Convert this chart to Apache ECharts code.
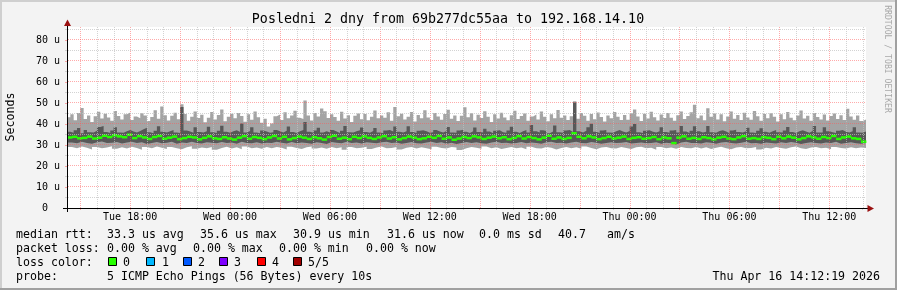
<!DOCTYPE html>
<html><head><meta charset="utf-8">
<script src="https://cdn.jsdelivr.net/npm/echarts@6/dist/echarts.min.js"></script>
<style>html,body{margin:0;padding:0;background:#f3f3f3}#c{width:897px;height:290px}</style>
</head><body><div id="c"></div>
<script>
// ---- time axis (hours since Tue 00:00) ----
const startHour = 14 + 12/60 + 19/3600;   // Tue 14:12:19
const spanHours = 48;
const dayNames = ['Tue','Wed','Thu'];
const majorHours = [15,18,21,24,27,30,33,36,39,42,45,48,51,54,57,60];
const minorHours = [16,17,19,20,22,23,25,26,28,29,31,32,34,35,37,38,40,41,43,44,46,47,49,50,52,53,55,56,58,59,61,62];
const labelHours = [18,24,30,36,42,48,54,60];
// ---- value axis (microseconds) ----
const yLabelValues = [0,10,20,30,40,50,60,70,80];
const yMajor = [10,20,30,40,50,60,70,80];
const yMinor = [5,15,25,35,45,55,65,75,85];
const yMax = 86.2;

// ---- ping data (us): max and 4th ping in 240 steps of 12 min, others in 160 steps of 18 min ----
const pingMax = [
43.2,44.6,41.8,45.3,47.6,42.4,44.1,40.9,43.7,45.8,
42.6,44.9,43.1,41.5,46.2,43.8,42.2,44.7,45.5,41.9,
43.6,42.8,45.1,44.0,41.4,43.3,46.6,42.5,48.3,44.2,
41.7,43.9,45.4,42.3,49.4,44.8,41.6,43.5,46.0,42.9,
44.4,40.8,43.0,45.7,42.1,44.3,46.9,41.3,43.4,44.9,
42.7,45.2,43.8,41.1,44.6,42.0,45.9,43.2,40.6,42.5,
38.8,40.2,43.7,44.5,41.9,45.6,42.8,44.1,46.3,43.0,
42.4,51.2,44.0,41.7,45.3,43.6,47.4,46.1,42.9,44.7,
43.3,41.5,45.8,42.6,44.2,40.9,43.9,45.0,42.3,44.8,
41.8,43.5,46.4,42.7,44.1,43.0,45.6,41.6,48.1,43.7,
44.9,42.1,43.4,45.7,41.2,44.3,42.8,46.5,43.1,41.9,
45.2,43.6,42.0,44.8,46.8,42.5,44.0,41.4,43.9,48.0,
43.2,45.1,41.7,44.4,42.9,46.1,43.5,41.0,44.7,42.6,
45.4,43.1,41.8,44.2,46.3,42.4,43.8,45.0,41.5,43.6,
44.5,42.2,45.9,43.4,41.3,44.6,42.7,46.7,43.0,44.1,
41.9,43.7,50.8,42.5,45.2,43.9,41.6,44.8,42.3,45.5,
43.3,41.2,44.0,42.8,45.7,43.5,41.9,44.3,42.0,45.1,
46.9,43.6,41.4,44.9,42.6,45.8,43.2,41.7,44.5,42.9,
45.3,43.0,41.5,44.2,46.0,42.4,43.8,45.6,49.2,42.7,
44.1,41.8,47.5,43.4,45.0,42.2,44.7,41.3,43.6,45.9,
42.5,44.3,41.9,45.4,43.1,42.0,46.2,43.7,41.6,44.8,
42.8,45.1,43.5,41.2,44.6,42.3,45.7,43.0,41.8,44.0,
46.4,42.6,43.9,41.5,45.2,43.3,42.1,44.5,41.7,43.8,
45.0,42.4,44.2,41.9,47.3,43.6,42.0,44.1,41.4,42.2];
const pingP4 = [
36.3,35.8,37.0,38.1,35.6,37.2,36.1,35.9,36.8,38.6,
39.0,36.2,35.7,36.9,38.4,36.0,35.8,36.6,37.1,36.4,
35.9,36.7,37.5,38.2,36.1,35.6,36.8,38.9,36.3,35.9,
36.5,37.2,36.0,35.7,48.1,36.9,36.4,35.8,38.5,36.2,
35.9,36.6,38.7,36.1,35.7,36.8,39.2,36.3,35.8,36.5,
37.0,36.2,40.2,35.9,36.7,38.4,36.0,35.6,36.9,36.4,
35.8,36.1,37.2,36.6,35.9,36.8,38.8,36.2,35.7,36.5,
37.1,41.0,36.3,35.8,36.9,38.2,36.0,36.6,35.9,37.2,
36.4,35.7,36.8,39.0,36.1,35.9,36.5,37.0,38.3,36.2,
35.8,36.7,38.1,36.0,35.6,36.9,37.1,36.4,38.8,36.3,
35.9,36.6,38.9,36.2,35.7,36.8,37.0,36.5,35.8,36.1,
37.2,36.4,35.9,36.7,38.6,36.0,35.8,36.9,37.3,36.3,
35.7,36.6,38.3,36.2,35.9,37.7,36.4,35.6,36.8,37.0,
36.1,35.8,36.9,38.7,36.3,35.7,36.6,37.2,36.0,39.5,
36.5,35.9,37.0,36.7,35.6,36.4,39.3,36.1,35.8,36.9,
37.1,36.2,50.2,36.6,35.9,36.8,38.5,40.1,36.3,35.7,
36.9,37.2,36.0,35.8,36.5,37.1,36.4,35.9,36.7,38.8,
40.0,36.1,35.7,36.8,37.0,36.3,35.9,36.6,38.4,36.2,
35.8,36.9,37.2,36.0,39.1,36.4,35.7,36.8,38.9,36.5,
35.9,36.3,39.0,36.1,35.8,36.7,37.0,36.4,35.6,36.9,
37.3,36.2,35.9,36.6,38.2,36.0,35.7,36.8,38.0,36.3,
35.8,36.5,37.2,36.1,35.9,36.9,38.6,36.2,35.7,36.6,
37.0,36.4,35.8,36.7,39.1,36.0,35.9,38.4,36.5,36.1,
35.7,36.8,37.1,36.3,35.9,36.6,38.5,36.0,35.8,36.4];
const pingMedian = [
33.6,33.9,33.2,33.4,34.0,33.1,33.5,34.4,33.8,34.6,
34.1,33.7,34.9,33.3,34.2,33.6,32.9,33.8,34.3,33.0,
33.5,34.0,32.8,33.3,33.9,33.6,32.7,33.4,34.1,33.2,
32.9,33.7,33.1,32.6,33.5,34.2,33.0,33.8,33.4,32.8,
33.6,34.3,33.1,33.9,32.7,33.3,34.0,33.5,32.9,33.7,
33.2,32.6,33.8,34.4,33.0,33.5,32.8,33.9,33.3,34.1,
33.4,32.9,33.6,34.2,33.1,33.7,32.7,33.3,34.0,33.5,
32.8,33.2,33.9,33.4,34.3,33.0,33.6,32.5,33.1,33.8,
33.3,34.1,33.6,32.9,33.5,34.0,33.2,33.7,32.8,33.4,
34.2,33.1,33.8,33.3,32.7,33.5,34.4,33.0,33.6,32.9,
33.4,35.6,33.9,33.2,34.1,33.6,32.8,33.3,33.9,33.1,
33.5,34.0,32.9,33.4,33.7,33.0,33.3,33.8,32.8,33.6,
33.2,30.9,33.5,34.1,33.0,33.4,32.9,33.7,33.3,32.7,
33.5,33.9,33.1,32.8,33.6,34.2,33.0,33.3,32.9,33.7,
33.4,32.8,33.9,33.2,34.0,33.5,32.7,33.3,34.1,33.6,
33.0,33.8,33.3,34.3,32.9,33.6,34.0,33.2,32.9,31.6];
const pingP2 = [
31.2,30.8,31.5,31.0,30.6,31.3,31.7,30.9,31.1,31.4,
30.7,31.2,31.6,30.9,31.3,30.5,31.0,31.4,30.8,31.1,
31.5,30.6,31.2,30.9,31.6,31.0,30.7,31.3,31.1,30.8,
31.4,30.9,31.2,30.6,31.5,31.0,30.8,31.3,30.7,31.1,
30.9,31.6,31.1,30.7,31.4,30.8,31.2,31.0,30.6,31.3,
31.0,30.5,31.4,31.1,30.8,31.5,30.9,31.2,30.7,31.3,
31.1,30.8,31.3,31.6,30.9,31.2,30.6,31.0,31.4,30.8,
30.7,31.2,31.5,30.9,31.3,30.6,31.1,30.5,30.9,31.4,
31.0,31.3,30.8,30.6,31.2,31.5,30.9,31.1,30.7,31.0,
31.4,30.8,31.2,31.0,30.6,31.3,31.6,30.9,31.1,30.7,
31.2,31.5,31.0,30.8,31.4,31.1,30.6,31.0,31.3,30.9,
31.1,31.4,30.7,31.0,31.2,30.8,30.9,31.3,30.6,31.1,
30.8,30.3,31.2,31.5,30.9,31.0,30.7,31.3,31.1,30.6,
31.2,31.4,30.9,30.7,31.1,31.5,30.8,31.0,30.6,31.2,
31.0,30.7,31.3,30.9,31.4,31.1,30.5,30.9,31.3,31.0,
30.7,31.2,30.9,31.5,30.6,31.0,31.3,30.8,30.6,30.9];
const pingMin = [
29.0,28.4,29.3,28.7,27.9,29.1,28.5,28.8,29.4,28.2,
28.9,28.3,29.2,28.6,27.8,29.0,28.4,29.3,28.7,28.1,
29.1,28.5,28.0,28.9,29.4,28.2,28.8,28.4,29.0,27.7,
28.6,29.2,28.3,28.9,28.0,29.3,28.5,28.8,28.2,29.1,
28.4,29.0,28.7,27.9,29.2,28.6,28.1,28.9,29.3,28.3,
28.8,28.2,29.1,28.5,28.9,27.8,29.0,28.4,28.7,29.2,
28.1,28.8,29.3,28.4,28.6,29.0,27.9,28.7,29.1,28.3,
28.9,28.5,28.0,29.2,28.6,28.3,29.0,28.8,27.6,28.4,
29.1,28.7,28.2,29.3,28.5,28.9,28.1,28.6,29.0,28.4,
28.8,28.0,29.2,28.5,28.3,29.0,28.7,27.9,28.6,29.1,
28.4,28.9,28.2,29.3,28.6,28.0,28.8,29.1,28.5,28.3,
29.0,28.6,28.1,28.9,29.2,28.4,28.7,27.8,29.0,28.5,
28.8,28.2,29.1,28.6,28.4,29.0,28.3,28.9,28.1,28.7,
29.2,28.5,28.0,28.8,29.1,28.4,28.6,29.0,27.9,28.7,
28.3,29.0,28.6,28.2,28.9,29.3,28.5,28.1,28.8,29.1,
28.4,28.7,28.0,29.0,28.6,28.3,28.9,28.5,28.8,28.6];

// ---- texts ----
const titleText = 'Posledni 2 dny from 69b277dc55aa to 192.168.14.10';
const yAxisName = 'Seconds';
const watermark = 'RRDTOOL / TOBI OETIKER';
const rttLine = ['median rtt:', '33.3 us avg', '35.6 us max', '30.9 us min', '31.6 us now', '0.0 ms sd', '40.7', 'am/s'];
const lossLine = ['packet loss:', '0.00 % avg', '0.00 % max', '0.00 % min', '0.00 % now'];
const lossColorLabel = 'loss color:';
const lossLabels = ['0','1','2','3','4','5/5'];
const probeLine = ['probe:', '5 ICMP Echo Pings (56 Bytes) every 10s'];
const stampText = 'Thu Apr 16 14:12:19 2026';

// ---- styles / layout ----
const lossColors = ['#26ff00','#00b8ff','#0059ff','#7e00ff','#ff0000','#a10000'];
const MONO = '"DejaVu Sans Mono", monospace';
const majorGridColor = 'rgba(255,85,85,0.5)';
const minorGridColor = 'rgba(192,192,192,0.7)';
const arrowColor = '#9a1010';
const medHalf = 0.6;

const tEnd = startHour + spanHours;
function stepData(arr){
  const dt = spanHours / arr.length;
  const d = arr.map((v,i)=>[startHour + i*dt, v]);
  d.push([tEnd, arr[arr.length-1]]);
  return d;
}
function areaSeries(name, arr, color){
  return {name, type:'line', data: stepData(arr), step:'end', symbol:'none', showSymbol:false,
    lineStyle:{width:0, opacity:0}, areaStyle:{color, opacity:1, origin:'start'},
    silent:true, animation:false, z:2};
}
function fmtHour(h){
  const d = Math.floor(h/24);
  const hh = Math.round(h - d*24);
  return dayNames[d] + ' ' + String(hh).padStart(2,'0') + ':00';
}
const medDt = spanHours / pingMedian.length;
const medianData = pingMedian.map((v,i)=>[startHour + i*medDt, startHour + (i+1)*medDt, v]);

// grid lines drawn through the axis scales, snapped to pixel centres
function vGridSeries(name, hours, color){
  return {name, type:'custom', data: hours.map(h=>[h]), encode:{x:0}, silent:true, animation:false, z:6, clip:false,
    renderItem:function(params, api){
      const cs = params.coordSys;
      const x = Math.round(api.coord([api.value(0), 0])[0]) + 0.5;
      return {type:'line', shape:{x1:x, y1:cs.y, x2:x, y2:cs.y + cs.height},
        style:{stroke:color, lineWidth:1, lineDash:[1,1]}};
    }};
}
function hGridSeries(name, vals, color){
  return {name, type:'custom', data: vals.map(v=>[startHour, v]), encode:{x:0, y:1}, silent:true, animation:false, z:6, clip:false,
    renderItem:function(params, api){
      const cs = params.coordSys;
      const y = Math.round(api.coord([startHour, api.value(1)])[1]) - 0.5;
      return {type:'line', shape:{x1:cs.x + 1, y1:y, x2:cs.x + cs.width, y2:y},
        style:{stroke:color, lineWidth:1, lineDash:[1,1]}};
    }};
}

function txt(text, x, y, size, opts){
  opts = opts || {};
  return {type:'text', x, y, rotation: opts.rot || 0, z: 100, silent:true,
    style:{text, font: size + 'px ' + MONO, fill: opts.fill || '#000',
      align: opts.align || 'left', verticalAlign:'middle',
      textAlign: opts.align || 'left', textVerticalAlign:'middle'}};
}

const graphics = [];
graphics.push({type:'rect', z:100, silent:true, shape:{x:0,y:0,width:897,height:2}, style:{fill:'#cfcfcf'}});
graphics.push({type:'rect', z:100, silent:true, shape:{x:0,y:0,width:2,height:290}, style:{fill:'#cfcfcf'}});
graphics.push({type:'rect', z:100, silent:true, shape:{x:0,y:288,width:897,height:2}, style:{fill:'#a0a0a0'}});
graphics.push({type:'rect', z:100, silent:true, shape:{x:895,y:0,width:2,height:290}, style:{fill:'#a0a0a0'}});
graphics.push({type:'line', z:100, silent:true, shape:{x1:67.5,y1:21,x2:67.5,y2:212}, style:{stroke:'#000', lineWidth:1}});
graphics.push({type:'line', z:100, silent:true, shape:{x1:63,y1:208.5,x2:869,y2:208.5}, style:{stroke:'#000', lineWidth:1}});
graphics.push({type:'polygon', z:101, silent:true, shape:{points:[[67.5,19.5],[64,26],[71,26]]}, style:{fill:arrowColor}});
graphics.push({type:'polygon', z:101, silent:true, shape:{points:[[874,208.5],[867.5,205],[867.5,212]]}, style:{fill:arrowColor}});
graphics.push(txt(titleText, 448, 19.5, 13.3, {align:'center'}));
graphics.push(txt(yAxisName, 11, 117, 11.6, {align:'center', rot: Math.PI/2}));
graphics.push(txt(watermark, 887, 59, 8.15, {align:'center', rot: -Math.PI/2, fill:'#a8a8a8'}));
const rttX = [16,107,200,293,387,479,558,607];
rttLine.forEach((s,i)=>graphics.push(txt(s, rttX[i], 234.5, 11.6)));
const lossX = [16,107,193,279,366];
lossLine.forEach((s,i)=>graphics.push(txt(s, lossX[i], 248.5, 11.6)));
graphics.push(txt(lossColorLabel, 16, 262.5, 11.6));
const boxX = [108,146,183,219,257,293];
const lblX = [123,162,198,234,272,308];
lossLabels.forEach((s,i)=>{
  graphics.push({type:'rect', z:100, silent:true, shape:{x:boxX[i]+0.5, y:257.5, width:8, height:8},
    style:{fill:lossColors[i], stroke:'#000', lineWidth:1}});
  graphics.push(txt(s, lblX[i], 262.5, 11.6));
});
graphics.push(txt(probeLine[0], 16, 276.8, 11.6));
graphics.push(txt(probeLine[1], 107, 276.8, 11.6));
graphics.push(txt(stampText, 880, 276.8, 11.6, {align:'right'}));

const chart = echarts.init(document.getElementById('c'), null, {renderer:'canvas', width:897, height:290});
chart.setOption({
  animation:false,
  backgroundColor:'#f3f3f3',
  grid:{left:67, right:31, top:27, bottom:82, show:true, backgroundColor:'#ffffff', borderWidth:0, outerBoundsMode:'none', containLabel:false},
  xAxis:[
    {type:'value', min:startHour, max:tEnd, z:10, position:'bottom',
      axisLine:{show:true, onZero:false, lineStyle:{color:'#000', width:1}},
      axisTick:{show:true, length:2, customValues:majorHours, lineStyle:{color:majorGridColor}},
      axisLabel:{show:true, customValues:labelHours, formatter:fmtHour, margin:4,
        fontFamily:'DejaVu Sans Mono', fontSize:10, color:'#000'},
      splitLine:{show:false}, minorTick:{show:false}, minorSplitLine:{show:false}},
    {type:'value', min:startHour, max:tEnd, z:9, position:'bottom', offset:0,
      axisLine:{show:false},
      axisTick:{show:true, length:2, customValues:minorHours, lineStyle:{color:minorGridColor}},
      axisLabel:{show:false}, splitLine:{show:false}}
  ],
  yAxis:[
    {type:'value', min:0, max:yMax, z:10, position:'left',
      axisLine:{show:true, onZero:false, lineStyle:{color:'#000', width:1}},
      axisTick:{show:true, length:2, customValues:yLabelValues, lineStyle:{color:majorGridColor}},
      axisLabel:{show:true, customValues:yLabelValues, margin:7,
        formatter:(v)=> v === 0 ? '0  ' : (v + ' u'),
        fontFamily:'DejaVu Sans Mono', fontSize:10, color:'#000'},
      splitLine:{show:false}},
    {type:'value', min:0, max:yMax, z:9, position:'left', offset:0,
      axisLine:{show:false},
      axisTick:{show:true, length:2, customValues:yMinor, lineStyle:{color:minorGridColor}},
      axisLabel:{show:false}, splitLine:{show:false}}
  ],
  series:[
    areaSeries('max', pingMax, '#a4a4a4'),
    areaSeries('p4', pingP4, '#585858'),
    areaSeries('p2', pingP2, '#a4a4a4'),
    areaSeries('min', pingMin, '#ffffff'),
    {name:'median', type:'custom', data: medianData, silent:true, animation:false, z:3,
      encode:{x:[0,1], y:2},
      renderItem:function(params, api){
        const p0 = api.coord([api.value(0), api.value(2) + medHalf]);
        const p1 = api.coord([api.value(1), api.value(2) - medHalf]);
        return {type:'rect', shape:{x:p0[0], y:p0[1], width:p1[0]-p0[0]+0.4, height:p1[1]-p0[1]},
          style:{fill:lossColors[0]}};
      }},
    vGridSeries('minorX', minorHours, minorGridColor),
    vGridSeries('majorX', majorHours, majorGridColor),
    hGridSeries('minorY', yMinor, minorGridColor),
    hGridSeries('majorY', yMajor, majorGridColor)
  ],
  graphic:{elements:graphics}
});
</script>
</body></html>
